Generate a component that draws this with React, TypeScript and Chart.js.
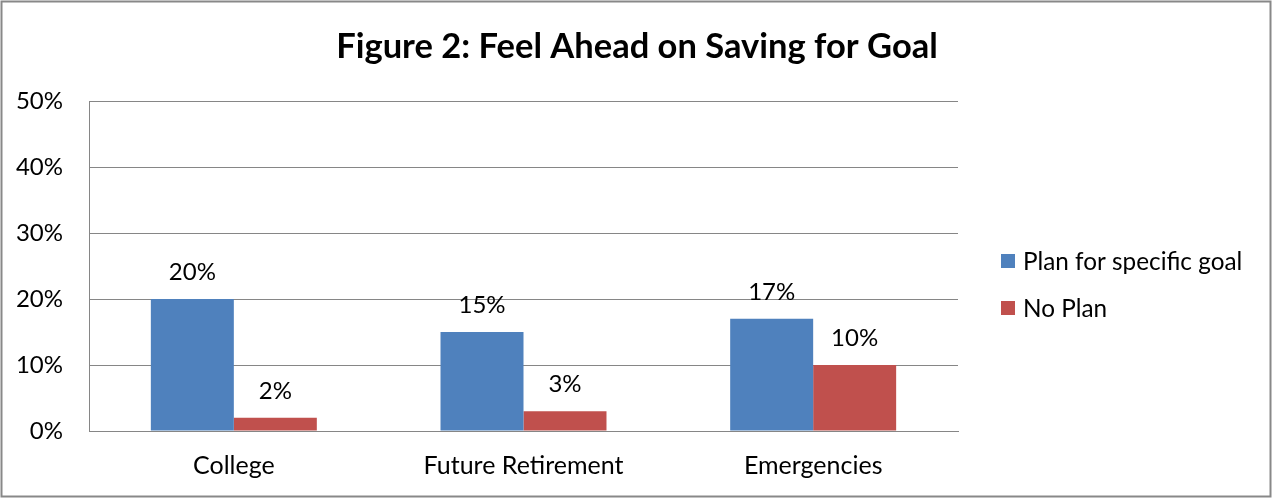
import React, { useEffect, useRef } from "react";
import { Chart, registerables } from "chart.js";

Chart.register(...registerables);

const categories = ["College", "Future Retirement", "Emergencies"];
const planValues = [20, 15, 17];
const noPlanValues = [2, 3, 10];
const seriesNames = ["Plan for specific goal", "No Plan"];
const seriesColors = ["#4F81BD", "#C0504D"];
const yTicks = [0, 10, 20, 30, 40, 50];
const titleText = "Figure 2: Feel Ahead on Saving for Goal";

const FONT = "Lato, 'Open Sans', sans-serif";

const framePlugin = {
  id: "frame",
  beforeDraw(chart: any) {
    const { ctx, width, height } = chart;
    ctx.save();
    ctx.fillStyle = "#ffffff";
    ctx.fillRect(0, 0, width, height);
    ctx.strokeStyle = "#888888";
    ctx.lineWidth = 2;
    ctx.strokeRect(1.5, 1.5, width - 3, height - 4);
    ctx.restore();
  },
};

const titlePlugin = {
  id: "customTitle",
  afterDraw(chart: any) {
    const { ctx } = chart;
    ctx.save();
    ctx.font = `bold 34.5px ${FONT}`;
    ctx.fillStyle = "#000";
    ctx.textAlign = "center";
    ctx.textBaseline = "middle";
    ctx.fillText(titleText, 637, 47);
    ctx.restore();
  },
};

const dataLabelPlugin = {
  id: "dataLabels",
  afterDatasetsDraw(chart: any) {
    const { ctx } = chart;
    ctx.save();
    ctx.font = `24px ${FONT}`;
    ctx.fillStyle = "#000";
    ctx.textAlign = "center";
    ctx.textBaseline = "alphabetic";
    chart.data.datasets.forEach((ds: any, i: number) => {
      const meta = chart.getDatasetMeta(i);
      meta.data.forEach((bar: any, j: number) => {
        ctx.fillText(ds.data[j] + "%", bar.x, bar.y - 19);
      });
    });
    ctx.restore();
  },
};

const legendPlugin = {
  id: "customLegend",
  afterDraw(chart: any) {
    const { ctx } = chart;
    ctx.save();
    ctx.font = `24.3px ${FONT}`;
    ctx.textBaseline = "middle";
    ctx.textAlign = "left";
    chart.data.datasets.forEach((ds: any, i: number) => {
      const cy = 261 + i * 47;
      ctx.fillStyle = ds.backgroundColor;
      ctx.fillRect(1001, cy - 7, 14, 14);
      ctx.fillStyle = "#000";
      ctx.fillText(ds.label, 1023, cy + 1);
    });
    ctx.restore();
  },
};

export default function App() {
  const canvasRef = useRef<HTMLCanvasElement | null>(null);

  useEffect(() => {
    document.body.style.margin = "0";
    const canvas = canvasRef.current;
    if (!canvas) return;
    const chart = new Chart(canvas, {
      type: "bar",
      data: {
        labels: categories,
        datasets: [
          {
            label: seriesNames[0],
            data: planValues,
            backgroundColor: seriesColors[0],
            categoryPercentage: 0.573,
            barPercentage: 1,
          },
          {
            label: seriesNames[1],
            data: noPlanValues,
            backgroundColor: seriesColors[1],
            categoryPercentage: 0.573,
            barPercentage: 1,
          },
        ],
      },
      options: {
        animation: false,
        responsive: false,
        maintainAspectRatio: false,
        layout: { padding: { top: 101, right: 314, bottom: 0, left: 0 } },
        plugins: {
          legend: { display: false },
          title: { display: false },
          tooltip: { enabled: false },
        },
        scales: {
          x: {
            grid: { display: false, drawTicks: false },
            border: { display: true, color: "#868686", width: 1 },
            ticks: {
              color: "#000",
              font: { family: FONT, size: 25 },
              padding: 20,
            },
            afterFit(scale: any) {
              scale.height = 68;
            },
          },
          y: {
            min: 0,
            max: 50,
            afterBuildTicks(scale: any) {
              scale.ticks = yTicks.map((v) => ({ value: v }));
            },
            grid: { color: "#868686", lineWidth: 1, drawTicks: false },
            border: { display: true, color: "#868686", width: 1 },
            ticks: {
              color: "#000",
              font: { family: FONT, size: 24 },
              padding: 26,
              callback: (v: any) => v + "%",
            },
            afterFit(scale: any) {
              scale.width = 89;
            },
          },
        },
      },
      plugins: [framePlugin, titlePlugin, dataLabelPlugin, legendPlugin],
    } as any);
    return () => chart.destroy();
  }, []);

  return (
    <div style={{ position: "absolute", left: 0, top: 0, width: 1272, height: 499 }}>
      <canvas ref={canvasRef} width={1272} height={499} style={{ display: "block" }} />
    </div>
  );
}
